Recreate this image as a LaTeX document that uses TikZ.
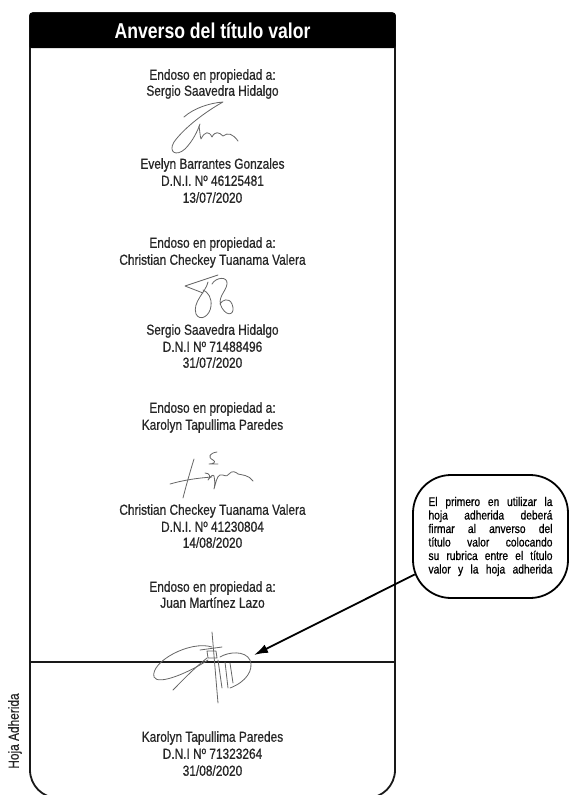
\documentclass[tikz,border=0pt]{standalone}
\usepackage{fontspec}
\setmainfont{Liberation Sans}[FakeStretch=0.82]
\newfontfamily\cuerpo{Liberation Sans}[FakeStretch=0.82,FakeBold=0.7]
\usetikzlibrary{arrows.meta}
\tikzset{
  txt/.style={font=\cuerpo\fontsize{14.5}{17}\selectfont, text=black!85, inner sep=0pt, text height=10.5pt, text depth=3pt},
  marco/.style={line width=1.8pt, black!90},
  firma/.style={line width=0.8pt, black!60, line cap=round, line join=round},
  flecha/.style={line width=1.8pt, -{Latex[length=14pt,width=9pt]}},
  nota/.style={draw, line width=1.8pt, rounded corners=38pt, minimum width=155pt, minimum height=123pt, inner sep=0pt, font=\cuerpo\fontsize{12.5}{13.5}\selectfont},
  cabecera/.style={fill=black, rounded corners=2pt, minimum width=366pt, minimum height=35pt, text=white, font=\bfseries\fontsize{21.5}{24}\selectfont, inner sep=0pt}
}
\newcommand{\renglon}[1]{\hbox to 124pt{\spaceskip=0.25em plus 1fil\relax #1}}
\begin{document}
\begin{tikzpicture}[x=1pt,y=-1pt]
\useasboundingbox (0,0) rectangle (570,795);
% marco del titulo valor
\draw[marco] (212,13) [rounded corners=3pt] -- (395,13) [rounded corners=28pt] -- (395,798) -- (30,798) [rounded corners=3pt] -- (30,13) -- cycle;
\node[cabecera] (cab) at (212.5,30.5) {Anverso del título valor};
\draw[marco] (30,662) -- (395,662);
\node[txt, rotate=90] (hoja) at (15,731) {Hoja Adherida};
% primer endoso
\node[txt] (e1a) at (212.5,76) {Endoso en propiedad a:};
\node[txt] (e1b) at (212.5,92) {Sergio Saavedra Hidalgo};
\draw[firma] (184,117) .. controls (194,108) and (210,103) .. (223,102) .. controls (205,112) and (184,128) .. (174,142) .. controls (168,152) and (176,157) .. (185,149) .. controls (193,141) and (198,130) .. (200,124);
\draw[firma] (199,126) .. controls (200,132) and (200,136) .. (201,139) .. controls (205,131) and (209,131) .. (212,137) .. controls (215,131) and (219,132) .. (223,136) .. controls (228,132) and (233,134) .. (238,141);
\node[txt] (f1a) at (212.5,165) {Evelyn Barrantes Gonzales};
\node[txt] (f1b) at (212.5,182) {D.N.I. Nº 46125481};
\node[txt] (f1c) at (212.5,199) {13/07/2020};
% segundo endoso
\node[txt] (e2a) at (212.5,244) {Endoso en propiedad a:};
\node[txt] (e2b) at (212.5,261) {Christian Checkey Tuanama Valera};
\draw[firma] (218,275) -- (185,286) -- (203,293);
\draw[firma] (208,282) .. controls (206,292) and (192,302) .. (196,314) .. controls (200,322) and (210,316) .. (211,306) .. controls (212,298) and (208,292) .. (203,290);
\draw[firma] (212,284) .. controls (216,277) and (228,276) .. (227,284) .. controls (226,292) and (216,298) .. (222,308) .. controls (228,318) and (236,314) .. (232,304) .. controls (229,297) and (222,300) .. (220,304);
\node[txt] (f2a) at (212.5,331) {Sergio Saavedra Hidalgo};
\node[txt] (f2b) at (212.5,348) {D.N.I Nº 71488496};
\node[txt] (f2c) at (212.5,364) {31/07/2020};
% tercer endoso
\node[txt] (e3a) at (212.5,409) {Endoso en propiedad a:};
\node[txt] (e3b) at (212.5,426) {Karolyn Tapullima Paredes};
\draw[firma] (194,459) .. controls (190,472) and (186,486) .. (183,498);
\draw[firma] (170,484) .. controls (184,480) and (198,478) .. (212,477);
\draw[firma] (217,452) .. controls (210,453) and (207,457) .. (213,460) .. controls (217,462) and (213,464) .. (209,464) -- (218,464);
\draw[firma] (205,473) .. controls (210,473) and (211,477) .. (208,480) .. controls (211,476) and (213,474) .. (214,476) .. controls (215,481) and (215,485) .. (214,489) .. controls (216,482) and (217,476) .. (220,475) .. controls (224,474) and (226,478) .. (229,474) .. controls (232,470) and (236,472) .. (238,474) .. controls (242,475) and (249,475) .. (253,481);
\node[txt] (f3a) at (212.5,511) {Christian Checkey Tuanama Valera};
\node[txt] (f3b) at (212.5,528) {D.N.I. Nº 41230804};
\node[txt] (f3c) at (212.5,544) {14/08/2020};
% cuarto endoso
\node[txt] (e4a) at (212.5,588) {Endoso en propiedad a:};
\node[txt] (e4b) at (212.5,604) {Juan Martínez Lazo};
\draw[firma] (212,647) .. controls (190,640) and (150,662) .. (154,677) .. controls (158,686) and (190,672) .. (208,660);
\draw[firma] (173,690) .. controls (180,683) and (192,670) .. (207,658);
\draw[firma] (212,632) .. controls (214,655) and (216,680) .. (218,703);
\draw[firma] (200,650) -- (222,647);
\draw[firma] (207,651) -- (216,651) -- (217,658) -- (208,658) -- cycle;
\draw[firma] (218,660) -- (222,688);
\draw[firma] (225,662) -- (228,688);
\draw[firma] (230,663) -- (233,683);
\draw[firma] (220,657) .. controls (228,652) and (245,650) .. (250,660) .. controls (254,670) and (246,682) .. (230,688);
\node[txt] (f4a) at (212.5,738) {Karolyn Tapullima Paredes};
\node[txt] (f4b) at (212.5,755) {D.N.I Nº 71323264};
\node[txt] (f4c) at (212.5,772) {31/08/2020};
% nota aclaratoria
\node[nota] (nota) at (490.5,536.5) {\vbox{\baselineskip=13.5pt
  \renglon{El primero en utilizar la}
  \renglon{hoja adherida deberá}
  \renglon{firmar al anverso del}
  \renglon{título valor colocando}
  \renglon{su rubrica entre el título}
  \renglon{valor y la hoja adherida}}};
\coordinate (punta) at (254,655);
\draw[flecha, shorten <=-3pt] (nota) -- (punta);
\end{tikzpicture}
\end{document}
